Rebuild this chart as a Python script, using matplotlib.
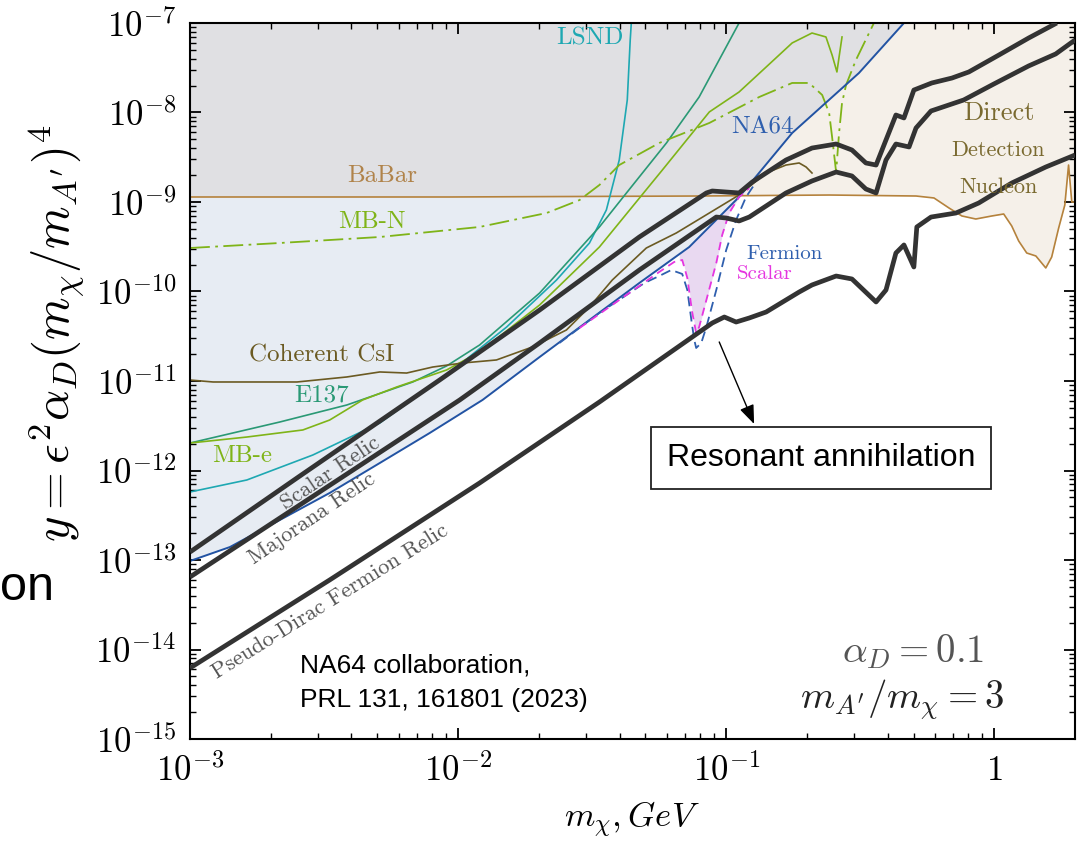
import numpy as np
import matplotlib
matplotlib.use('Agg')
from matplotlib import pyplot as plt
from matplotlib.ticker import LogLocator, NullFormatter

plt.rcParams['mathtext.fontset'] = 'cm'

# All curves are given as log10(m_chi / GeV), log10(y).
na64_lx = [-3.000, -2.851, -2.665, -2.479, -2.292, -2.106, -1.909, -1.696, -1.510, -1.324, -1.138, -0.952, -0.754, -0.505, -0.337]
na64_ly = [-13.011, -12.855, -12.553, -12.251, -11.916, -11.581, -11.212, -10.732, -10.318, -9.905, -9.503, -8.944, -8.229, -7.559, -7.000]

# BaBar line, continuing into the direct detection (nucleon) curve
babar_lx = [-3.000, -2.032, -1.101, -0.616, -0.292, -0.225, -0.169, -0.121, -0.069, -0.009, 0.035, 0.065, 0.091, 0.121, 0.155, 0.192, 0.214, 0.240, 0.263, 0.277, 0.289, 0.301]
babar_ly = [-8.944, -8.944, -8.933, -8.922, -8.933, -8.955, -9.067, -9.156, -9.190, -9.156, -9.134, -9.268, -9.436, -9.570, -9.603, -9.737, -9.615, -9.291, -9.034, -8.587, -9.000, -9.000]

scalar_lx = [-3.000, -2.590, -2.069, -1.696, -1.324, -1.074, -1.052, -0.952, -0.903, -0.777, -0.680, -0.590, -0.531, -0.479, -0.441, -0.404, -0.367, -0.337, -0.300, -0.233, -0.158, -0.095, 0.017, 0.128, 0.233]
scalar_ly = [-12.911, -12.061, -10.989, -10.207, -9.391, -8.899, -8.877, -8.899, -8.777, -8.531, -8.397, -8.352, -8.419, -8.564, -8.587, -8.307, -8.028, -8.061, -7.749, -7.670, -7.615, -7.547, -7.358, -7.168, -7.000]

majorana_lx = [-3.000, -1.994, -1.696, -1.324, -1.037, -1.000, -0.952, -0.914, -0.777, -0.680, -0.590, -0.531, -0.479, -0.441, -0.404, -0.367, -0.318, -0.292, -0.236, -0.114, -0.002, 0.128, 0.229, 0.301]
majorana_ly = [-13.190, -11.212, -10.575, -9.760, -9.168, -9.179, -9.212, -9.168, -8.899, -8.765, -8.665, -8.709, -8.855, -8.899, -8.531, -8.352, -8.385, -8.173, -7.983, -7.860, -7.682, -7.480, -7.346, -7.190]

pdirac_lx = [-3.000, -2.479, -1.920, -1.473, -1.052, -1.007, -0.963, -0.914, -0.851, -0.728, -0.680, -0.590, -0.531, -0.441, -0.404, -0.367, -0.337, -0.300, -0.289, -0.236, -0.143, -0.058, 0.065, 0.192, 0.301]
pdirac_ly = [-14.207, -13.223, -12.140, -11.235, -10.352, -10.285, -10.341, -10.296, -10.229, -10.006, -9.927, -9.827, -9.860, -10.117, -9.983, -9.570, -9.480, -9.726, -9.279, -9.168, -9.123, -9.011, -8.788, -8.609, -8.475]

lsnd_lx = [-3.000, -2.788, -2.542, -2.292, -2.043, -1.819, -1.633, -1.510, -1.447, -1.399, -1.369, -1.358, -1.354]
lsnd_ly = [-12.240, -12.106, -11.827, -11.469, -10.933, -10.397, -9.872, -9.458, -9.089, -8.531, -7.860, -7.190, -7.000]

e137_lx = [-3.000, -2.665, -2.415, -2.169, -2.043, -1.920, -1.696, -1.473, -1.372, -1.223, -1.101, -0.952]
e137_ly = [-11.693, -11.458, -11.268, -11.011, -10.832, -10.598, -10.017, -9.279, -8.899, -8.341, -7.827, -7.000]

mbe_lx = [-3.000, -2.788, -2.579, -2.479, -2.356, -2.229, -2.043, -1.920, -1.696, -1.473, -1.238, -1.063, -0.952, -0.851, -0.754, -0.680, -0.628, -0.605, -0.587, -0.579, -0.568]
mbe_ly = [-11.693, -11.626, -11.547, -11.436, -11.212, -11.067, -10.877, -10.676, -10.151, -9.503, -8.642, -7.994, -7.771, -7.492, -7.223, -7.112, -7.156, -7.358, -7.547, -7.380, -7.156]

mbn_lx = [-3.000, -2.665, -2.292, -1.920, -1.670, -1.547, -1.473, -1.399, -1.250, -1.063, -0.877, -0.754, -0.691, -0.642, -0.616, -0.605, -0.590, -0.579, -0.568, -0.553, -0.516, -0.449]
mbn_ly = [-9.514, -9.458, -9.391, -9.279, -9.123, -8.978, -8.810, -8.587, -8.341, -8.117, -7.827, -7.670, -7.670, -7.804, -8.006, -8.274, -8.665, -8.229, -7.894, -7.693, -7.413, -7.000]

csi_lx = [-3.000, -2.914, -2.601, -2.415, -2.292, -2.192, -2.095, -1.983, -1.857, -1.723, -1.596, -1.510, -1.425, -1.298, -1.186, -1.026, -0.952, -0.851, -0.777, -0.728, -0.702, -0.680]
csi_ly = [-10.989, -11.011, -11.011, -10.955, -10.899, -10.911, -10.844, -10.799, -10.765, -10.620, -10.430, -10.173, -9.872, -9.514, -9.346, -9.056, -8.922, -8.676, -8.587, -8.564, -8.609, -8.676]

fermion_lx = [-1.622, -1.473, -1.372, -1.305, -1.250, -1.205, -1.164, -1.145, -1.130, -1.119, -1.112, -1.093, -1.074, -1.037, -1.000, -0.963, -0.926, -0.896]
fermion_ly = [-10.575, -10.240, -10.039, -9.905, -9.827, -9.760, -9.804, -9.983, -10.318, -10.542, -10.631, -10.575, -10.397, -9.983, -9.536, -9.201, -8.944, -8.810]

scal_res_lx = [-1.547, -1.399, -1.250, -1.194, -1.164, -1.145, -1.127, -1.112, -1.101, -1.074, -1.037, -1.015, -0.989, -0.952, -0.914]
scal_res_ly = [-10.408, -10.095, -9.782, -9.670, -9.648, -9.849, -10.229, -10.464, -10.397, -10.095, -9.682, -9.369, -9.123, -8.944, -8.844]


def p(a):
    return 10.0 ** np.asarray(a)


fig = plt.figure(figsize=(10.84, 8.5), dpi=100)
ax = fig.add_axes([190/1084, 1 - 739/850, 885/1084, 716/850])
ax.set_xscale('log')
ax.set_yscale('log')
ax.set_xlim(1e-3, 10**0.301)
ax.set_ylim(1e-15, 1e-7)

# background regions
lx = np.linspace(-3, 0.301, 1500)
na64_i = np.interp(lx, na64_lx, na64_ly)
babar_i = np.interp(lx, babar_lx, babar_ly)
ax.fill_between(p(lx), p(babar_i), 1e-7, where=na64_i >= babar_i, interpolate=True,
                color='#f5f0e9', lw=0, zorder=0)
ax.fill_between(p(lx), p(na64_i), p(babar_i), where=na64_i < babar_i, interpolate=True,
                color='#e7ecf3', lw=0, zorder=0.5)
ax.fill_between(p(lx), p(np.maximum(na64_i, babar_i)), 1e-7, where=lx < -0.337,
                color='#e0e0e3', lw=0, zorder=0.6)

# resonance region
lr = np.linspace(-1.175, -0.93, 300)
up = np.interp(lr, na64_lx, na64_ly)
lo = np.interp(lr, scal_res_lx, scal_res_ly)
ax.fill_between(p(lr), p(lo), p(up), where=lo < up, interpolate=True,
                color='#e9d9f1', lw=0, zorder=0.7)

# experiment lines
ax.plot(p(babar_lx), p(babar_ly), color='#b5823c', lw=1.2, zorder=2)
ax.plot(p(lsnd_lx), p(lsnd_ly), color='#1ea8b2', lw=1.2, zorder=2)
ax.plot(p(e137_lx), p(e137_ly), color='#2a9975', lw=1.2, zorder=2)
ax.plot(p(mbe_lx), p(mbe_ly), color='#7fb418', lw=1.2, zorder=2)
ax.plot(p(mbn_lx), p(mbn_ly), color='#7fb418', lw=1.3, ls=(0, (11, 3, 1.5, 3)), zorder=2)
ax.plot(p(csi_lx), p(csi_ly), color='#6b5a22', lw=1.2, zorder=2)
ax.plot(p(na64_lx), p(na64_ly), color='#2253a3', lw=1.4, zorder=2.5)
ax.plot(p(fermion_lx), p(fermion_ly), color='#2f5fae', lw=1.3, ls=(0, (5.5, 3)), zorder=2.6)
ax.plot(p(scal_res_lx), p(scal_res_ly), color='#e535e0', lw=1.3, ls=(0, (4.5, 3)), zorder=2.7)

# relic targets
for lxs, lys in [(scalar_lx, scalar_ly), (majorana_lx, majorana_ly), (pdirac_lx, pdirac_ly)]:
    ax.plot(p(lxs), p(lys), color='#333333', lw=3.4, zorder=3, solid_capstyle='butt')

# labels
cm = 'cmr10'
def lab(x, y, s, c, fs=18, rot=0):
    ax.text((x - 190) / 885, (739 - y) / 716, s, color=c, fontsize=fs, family=cm,
            ha='center', va='center', rotation=rot, rotation_mode='anchor',
            transform=ax.transAxes, zorder=5)

lab(590, 38, 'LSND', '#1ea8b2')
lab(382, 176, 'BaBar', '#b0834a')
lab(372, 222, 'MB-N', '#7fb418')
lab(762, 127, 'NA64', '#2f5fae')
lab(322, 355, 'Coherent CsI', '#6b5a22')
lab(322, 395, 'E137', '#2a9975')
lab(242, 456, 'MB-e', '#7fb418')
lab(999, 113, 'Direct', '#7a6a30', fs=19)
lab(998, 150, 'Detection', '#7a6a30', fs=16)
lab(998, 187, 'Nucleon', '#7a6a30', fs=16)
lab(785, 254, 'Fermion', '#2f5fae', fs=15)
lab(765, 274, 'Scalar', '#e535e0', fs=15)
lab(330, 473, 'Scalar Relic', '#555555', fs=16, rot=34)
lab(312, 518, 'Majorana Relic', '#555555', fs=16, rot=34)
lab(330, 601, 'Pseudo-Dirac Fermion Relic', '#555555', fs=16, rot=32)

ax.text((913 - 190) / 885, (739 - 652) / 716, r'$\alpha_D = 0.1$', color='#555555',
        fontsize=28, ha='center', va='center', transform=ax.transAxes)
ax.text((902 - 190) / 885, (739 - 700) / 716, r"$m_{A'}/m_\chi = 3$", color='#222222',
        fontsize=28, ha='center', va='center', transform=ax.transAxes)

ax.text((300 - 190) / 885, (739 - 666) / 716, 'NA64 collaboration,', fontsize=19,
        family='Liberation Sans', ha='left', va='center', transform=ax.transAxes)
ax.text((300 - 190) / 885, (739 - 700) / 716, 'PRL 131, 161801 (2023)', fontsize=19,
        family='Liberation Sans', ha='left', va='center', transform=ax.transAxes)

ax.text((821 - 190) / 885, (739 - 458) / 716, 'Resonant annihilation', fontsize=23,
        family='Liberation Sans', ha='center', va='center', transform=ax.transAxes,
        bbox=dict(boxstyle='square,pad=0.5', fc='white', ec='#222222', lw=1.3), zorder=6)
ax.annotate('', xy=(10**-0.896, 10**-11.48), xytext=(10**-1.026, 10**-10.564),
            arrowprops=dict(arrowstyle='-|>,head_length=1.15,head_width=0.45', color='black',
                            lw=1.0, shrinkA=0, shrinkB=0), zorder=6)

# axes look
ax.set_xticks([1e-3, 1e-2, 1e-1, 1], labels=[r'$10^{-3}$', r'$10^{-2}$', r'$10^{-1}$', r'$1$'])
ax.set_yticks([10.0**k for k in range(-15, -6)],
              labels=[r'$10^{%d}$' % k for k in range(-15, -6)])
ax.xaxis.set_minor_locator(LogLocator(base=10, subs=np.arange(2, 10), numticks=20))
ax.yaxis.set_minor_locator(LogLocator(base=10, subs=np.arange(2, 10), numticks=20))
ax.xaxis.set_minor_formatter(NullFormatter())
ax.yaxis.set_minor_formatter(NullFormatter())
ax.tick_params(which='both', direction='in', top=True, right=True, labelsize=25, pad=10)
ax.tick_params(which='major', length=8, width=1.3)
ax.tick_params(which='minor', length=4, width=1.0)
for s in ax.spines.values():
    s.set_linewidth(1.5)

fig.text(632 / 1084, 1 - 820 / 850, r'$m_\chi, GeV$', fontsize=25, ha='center', va='center')
fig.text(57 / 1084, 1 - 333 / 850, r"$y = \epsilon^2 \alpha_D (m_\chi/m_{A'})^4$", fontsize=35,
         rotation=90, ha='center', va='center')
fig.text(0.0, 1 - 600 / 850, 'on', fontsize=35, family='Liberation Sans', ha='left', va='baseline')

fig.savefig('out.png', dpi=100)
